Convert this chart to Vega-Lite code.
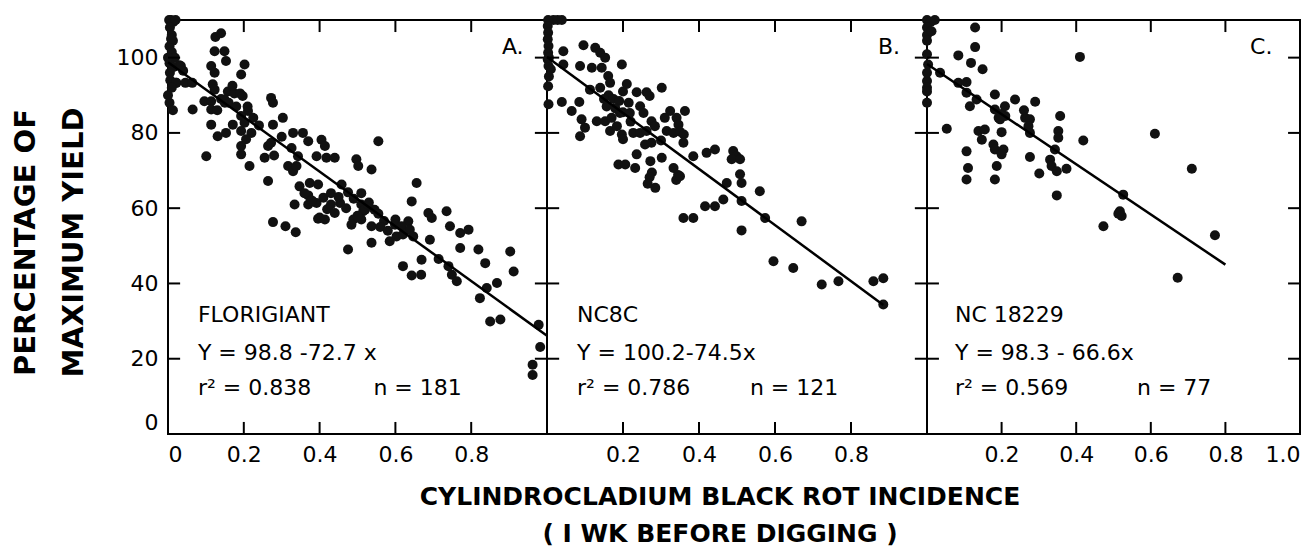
{
  "$schema": "https://vega.github.io/schema/vega-lite/v6.json",
  "padding": {"left": 10, "top": 14, "right": 0, "bottom": 0},
  "background": "white",
  "spacing": 0,
  "bounds": "flush",
  "title": {
    "text": ["CYLINDROCLADIUM   BLACK  ROT   INCIDENCE", "( I  WK  BEFORE  DIGGING )"],
    "orient": "bottom", "anchor": "middle", "font": "DejaVu Sans", "fontSize": 25,
    "fontWeight": "bold", "lineHeight": 37, "offset": 19, "color": "black", "dx": 64
  },
  "datasets": {
    "tx": [{"v":0.2},{"v":0.4},{"v":0.6},{"v":0.8}],
    "ty": [{"v":20},{"v":40},{"v":60},{"v":80},{"v":100}],
    "ptsA": [
      {"x":0.003,"y":110},{"x":0.008,"y":110},{"x":0.014,"y":109.5},{"x":0.02,"y":110},{"x":0.005,"y":108},{"x":0.01,"y":106},{"x":0.013,"y":104.5},{"x":0.004,"y":103},{"x":0.01,"y":101.5},{"x":0.018,"y":100},{"x":0.004,"y":98.5},{"x":0.015,"y":97.5},{"x":0.03,"y":98},{"x":0.04,"y":96.5},{"x":0.006,"y":94},{"x":0.022,"y":93.3},{"x":0.004,"y":88},{"x":0.013,"y":86},{"x":0.0,"y":90},
      {"x":0.034,"y":97.8},{"x":0.021,"y":93.3},{"x":0.046,"y":93.3},{"x":0.064,"y":93.3},{"x":0.065,"y":86.2},
      {"x":0.125,"y":105.5},{"x":0.14,"y":106.5},{"x":0.123,"y":101.7},{"x":0.149,"y":101.7},{"x":0.153,"y":99.1},{"x":0.114,"y":97.8},{"x":0.123,"y":96},
      {"x":0.202,"y":98.2},{"x":0.193,"y":95.5},{"x":0.118,"y":92.9},{"x":0.123,"y":91.5},{"x":0.14,"y":89},{"x":0.15,"y":88},
      {"x":0.158,"y":91},{"x":0.175,"y":90.5},{"x":0.19,"y":90.5},{"x":0.197,"y":89.8},{"x":0.096,"y":88.4},{"x":0.114,"y":88.4},{"x":0.114,"y":86.2},{"x":0.13,"y":86},{"x":0.149,"y":88.9},
      {"x":0.114,"y":82.2},{"x":0.131,"y":79.1},{"x":0.153,"y":80},{"x":0.171,"y":82.2},{"x":0.101,"y":73.8},
      {"x":0.211,"y":85.8},{"x":0.193,"y":84.5},{"x":0.202,"y":82.7},{"x":0.193,"y":80.5},{"x":0.22,"y":80},{"x":0.206,"y":78.3},{"x":0.193,"y":76.5},{"x":0.193,"y":74.3},{"x":0.215,"y":71.2},{"x":0.225,"y":84},
      {"x":0.272,"y":89.3},{"x":0.277,"y":88},{"x":0.303,"y":84},{"x":0.277,"y":82.2},{"x":0.255,"y":73.4},{"x":0.264,"y":76.5},{"x":0.272,"y":77.4},{"x":0.264,"y":67.2},
      {"x":0.33,"y":80},{"x":0.356,"y":80},{"x":0.37,"y":77.8},{"x":0.326,"y":76},{"x":0.343,"y":73.8},{"x":0.317,"y":71.2},{"x":0.33,"y":69.8},{"x":0.339,"y":71.2},
      {"x":0.405,"y":78.2},{"x":0.414,"y":76.5},{"x":0.418,"y":73.4},{"x":0.392,"y":73.8},{"x":0.44,"y":73.4},{"x":0.497,"y":73},{"x":0.502,"y":71.2},{"x":0.555,"y":77.8},{"x":0.537,"y":70.3},
      {"x":0.347,"y":65.8},{"x":0.37,"y":63.4},{"x":0.392,"y":61.4},{"x":0.41,"y":62.8},{"x":0.42,"y":59.7},{"x":0.44,"y":58.7},{"x":0.4,"y":57.5},{"x":0.374,"y":66.7},{"x":0.396,"y":66.3},{"x":0.334,"y":61},{"x":0.454,"y":61.4},
      {"x":0.458,"y":66.3},{"x":0.475,"y":64.2},{"x":0.49,"y":62.5},{"x":0.51,"y":61},{"x":0.51,"y":64},{"x":0.53,"y":61.5},{"x":0.545,"y":59.6},{"x":0.555,"y":58.5},{"x":0.57,"y":56.6},{"x":0.515,"y":59.2},
      {"x":0.6,"y":57},{"x":0.634,"y":56.5},{"x":0.656,"y":66.7},{"x":0.643,"y":61.8},{"x":0.687,"y":58.7},{"x":0.696,"y":57.4},{"x":0.735,"y":59.2},
      {"x":0.277,"y":56.3},{"x":0.31,"y":55.2},{"x":0.337,"y":53.6},{"x":0.396,"y":57.2},{"x":0.414,"y":57},{"x":0.37,"y":61},{"x":0.43,"y":61},{"x":0.489,"y":57},{"x":0.484,"y":55.6},{"x":0.51,"y":57},{"x":0.52,"y":59.6},{"x":0.528,"y":61},{"x":0.537,"y":55.2},{"x":0.475,"y":49},{"x":0.537,"y":50.8},
      {"x":0.599,"y":55.6},{"x":0.616,"y":55.2},{"x":0.638,"y":54.3},{"x":0.647,"y":52.5},{"x":0.603,"y":52.5},{"x":0.585,"y":51.2},{"x":0.744,"y":55.2},{"x":0.771,"y":53.4},{"x":0.793,"y":54.3},{"x":0.691,"y":51.6},{"x":0.669,"y":46.3},{"x":0.62,"y":44.6},{"x":0.643,"y":42.1},{"x":0.668,"y":42.3},{"x":0.714,"y":46.5},{"x":0.74,"y":44.6},{"x":0.749,"y":42.3},{"x":0.762,"y":40.6},{"x":0.771,"y":49.4},{"x":0.819,"y":49},{"x":0.837,"y":45.4},{"x":0.903,"y":48.5},{"x":0.912,"y":43.2},{"x":0.868,"y":40.1},{"x":0.841,"y":38.8},{"x":0.823,"y":36.1},{"x":0.85,"y":29.9},{"x":0.877,"y":30.4},{"x":0.978,"y":29},{"x":0.982,"y":23.1},{"x":0.962,"y":18.4},{"x":0.962,"y":15.7},
      {"x":0.005,"y":96},{"x":0.01,"y":92},{"x":0.0,"y":100},{"x":0.008,"y":105},{"x":0.16,"y":88},{"x":0.18,"y":87},{"x":0.17,"y":92.5},{"x":0.21,"y":87},{"x":0.36,"y":64},{"x":0.38,"y":62},{"x":0.43,"y":64},{"x":0.45,"y":63},{"x":0.5,"y":58},{"x":0.56,"y":55},{"x":0.58,"y":54},{"x":0.62,"y":53},{"x":0.3,"y":79},{"x":0.28,"y":74},{"x":0.24,"y":82},{"x":0.47,"y":60}
    ],
    "ptsB": [
      {"x":0.017,"y":110},{"x":0.028,"y":110},{"x":0.039,"y":110},{"x":0.003,"y":110},{"x":0.002,"y":108.4},{"x":0.003,"y":106.6},{"x":0.002,"y":104.9},{"x":0.004,"y":103.1},{"x":0.003,"y":101.3},{"x":0.002,"y":99.5},{"x":0.004,"y":97.8},{"x":0.01,"y":96.9},{"x":0.003,"y":92.4},{"x":0.004,"y":87.6},
      {"x":0.043,"y":101.7},{"x":0.043,"y":98.2},{"x":0.096,"y":103.3},{"x":0.127,"y":102.6},{"x":0.14,"y":101.3},{"x":0.153,"y":100},{"x":0.087,"y":97.8},{"x":0.118,"y":97.3},{"x":0.144,"y":97.3},{"x":0.197,"y":98.2},{"x":0.161,"y":95.1},{"x":0.166,"y":93.3},{"x":0.113,"y":91.5},
      {"x":0.14,"y":92},{"x":0.162,"y":90},{"x":0.175,"y":89},{"x":0.2,"y":91},{"x":0.19,"y":88.5},{"x":0.157,"y":87},{"x":0.18,"y":86.5},{"x":0.2,"y":85.5},{"x":0.215,"y":88},
      {"x":0.236,"y":90.8},{"x":0.262,"y":90.8},{"x":0.27,"y":89.8},{"x":0.302,"y":92},{"x":0.039,"y":88.2},{"x":0.085,"y":88.2},{"x":0.065,"y":85.8},{"x":0.091,"y":83.6},{"x":0.1,"y":81.4},{"x":0.087,"y":79.1},{"x":0.131,"y":83.1},{"x":0.153,"y":83.1},
      {"x":0.192,"y":85.3},{"x":0.218,"y":85.3},{"x":0.245,"y":87.1},{"x":0.254,"y":85.3},{"x":0.166,"y":80.5},{"x":0.184,"y":81.8},{"x":0.197,"y":79.6},{"x":0.2,"y":78.3},{"x":0.227,"y":80},{"x":0.245,"y":80},{"x":0.262,"y":80.5},{"x":0.275,"y":83.1},{"x":0.284,"y":81.8},{"x":0.258,"y":76.9},{"x":0.275,"y":77.4},
      {"x":0.324,"y":85.8},{"x":0.363,"y":85.8},{"x":0.341,"y":84},{"x":0.346,"y":82.2},{"x":0.315,"y":80.5},{"x":0.333,"y":80},{"x":0.35,"y":80.3},{"x":0.36,"y":79.6},{"x":0.359,"y":77.4},{"x":0.385,"y":73.8},{"x":0.42,"y":74.7},{"x":0.442,"y":75.6},{"x":0.49,"y":75.2},{"x":0.499,"y":73.8},{"x":0.486,"y":73},{"x":0.508,"y":73},
      {"x":0.188,"y":71.6},{"x":0.206,"y":71.6},{"x":0.232,"y":70.7},{"x":0.236,"y":74.3},{"x":0.302,"y":73.4},{"x":0.272,"y":72.5},{"x":0.276,"y":69.5},{"x":0.27,"y":68.2},{"x":0.265,"y":66.5},{"x":0.333,"y":70.7},{"x":0.345,"y":68.8},{"x":0.34,"y":67.5},{"x":0.35,"y":68.5},{"x":0.285,"y":65.4},
      {"x":0.508,"y":69},{"x":0.512,"y":66.7},{"x":0.473,"y":66.7},{"x":0.56,"y":64.5},{"x":0.464,"y":62.3},{"x":0.512,"y":61.9},{"x":0.416,"y":60.5},{"x":0.442,"y":60.5},{"x":0.359,"y":57.4},{"x":0.385,"y":57.4},{"x":0.574,"y":57.4},{"x":0.67,"y":56.5},
      {"x":0.512,"y":54.1},{"x":0.596,"y":45.9},{"x":0.648,"y":44.1},{"x":0.723,"y":39.7},{"x":0.767,"y":40.6},{"x":0.859,"y":40.6},{"x":0.885,"y":41.4},{"x":0.885,"y":34.4},
      {"x":0.17,"y":84},{"x":0.22,"y":83},{"x":0.3,"y":78},{"x":0.15,"y":89},{"x":0.005,"y":95},{"x":0.005,"y":100},{"x":0.21,"y":93},{"x":0.31,"y":84}
    ],
    "ptsC": [
      {"x":0.0,"y":110},{"x":0.021,"y":110},{"x":0.01,"y":109.5},{"x":0.0,"y":108},{"x":0.0,"y":106},{"x":0.0,"y":104.5},{"x":0.0,"y":100.9},{"x":0.003,"y":98.2},{"x":0.0,"y":93.8},{"x":0.0,"y":92},{"x":0.0,"y":91},{"x":0.0,"y":88},{"x":0.0,"y":96},{"x":0.012,"y":107},
      {"x":0.035,"y":96},{"x":0.129,"y":108},{"x":0.129,"y":102.8},{"x":0.084,"y":100.6},{"x":0.118,"y":98.6},{"x":0.149,"y":96.9},{"x":0.084,"y":93.3},{"x":0.106,"y":93.5},{"x":0.106,"y":90.7},{"x":0.133,"y":88.9},{"x":0.115,"y":87.1},{"x":0.182,"y":90.2},
      {"x":0.182,"y":86.2},{"x":0.2,"y":85},{"x":0.21,"y":84.5},{"x":0.192,"y":84},{"x":0.209,"y":87.1},{"x":0.236,"y":88.9},{"x":0.196,"y":83.6},{"x":0.29,"y":88.3},{"x":0.263,"y":84},{"x":0.276,"y":83.6},{"x":0.272,"y":81.8},{"x":0.276,"y":80},{"x":0.357,"y":84.5},{"x":0.352,"y":80.5},{"x":0.352,"y":78.7},{"x":0.26,"y":86},
      {"x":0.053,"y":81.1},{"x":0.138,"y":80.5},{"x":0.155,"y":80.9},{"x":0.147,"y":78.2},{"x":0.2,"y":80.2},{"x":0.178,"y":76.9},{"x":0.182,"y":75.6},{"x":0.205,"y":75.6},{"x":0.2,"y":74.3},{"x":0.106,"y":75.1},{"x":0.11,"y":70.7},{"x":0.106,"y":67.6},{"x":0.187,"y":71.2},{"x":0.182,"y":67.6},
      {"x":0.276,"y":73.6},{"x":0.343,"y":75.6},{"x":0.419,"y":78},{"x":0.41,"y":100.2},{"x":0.33,"y":72.9},{"x":0.334,"y":71.2},{"x":0.348,"y":69.8},{"x":0.374,"y":70.5},{"x":0.301,"y":69.2},{"x":0.348,"y":63.4},{"x":0.611,"y":79.8},{"x":0.71,"y":70.5},{"x":0.526,"y":63.6},{"x":0.517,"y":59.2},{"x":0.522,"y":57.9},{"x":0.473,"y":55.2},{"x":0.513,"y":58.5},{"x":0.772,"y":52.8},{"x":0.672,"y":41.5}
    ],
    "lineA": [{"x":0,"y":98.8},{"x":1.0,"y":26.1}],
    "lineB": [{"x":0,"y":100.2},{"x":0.885,"y":34.3}],
    "lineC": [{"x":0,"y":98.3},{"x":0.8,"y":45.0}],
    "textA": [
      {"x":0.079,"y":31.5,"t":"FLORIGIANT"},{"x":0.079,"y":21.5,"t":"Y = 98.8 -72.7 x"},{"x":0.079,"y":12.2,"t":"r² = 0.838"},{"x":0.542,"y":12.2,"t":"n = 181"},{"x":0.881,"y":102.7,"t":"A."}
    ],
    "textB": [
      {"x":0.079,"y":31.5,"t":"NC8C"},{"x":0.079,"y":21.5,"t":"Y = 100.2-74.5x"},{"x":0.079,"y":12.2,"t":"r² = 0.786"},{"x":0.534,"y":12.2,"t":"n = 121"},{"x":0.871,"y":102.7,"t":"B."}
    ],
    "textC": [
      {"x":0.075,"y":31.5,"t":"NC 18229"},{"x":0.075,"y":21.5,"t":"Y = 98.3 - 66.6x"},{"x":0.075,"y":12.2,"t":"r² = 0.569"},{"x":0.563,"y":12.2,"t":"n = 77"},{"x":0.866,"y":102.7,"t":"C."}
    ]
  },
  "hconcat": [
    {
      "width": 379, "height": 414,
      "layer": [
        {
          "data": {"name": "ptsA"},
          "mark": {"type": "circle", "size": 100, "color": "#111", "opacity": 1},
          "encoding": {
            "x": {"field": "x", "type": "quantitative", "scale": {"domain": [0, 1], "nice": false, "zero": false},
              "axis": {"orient": "bottom", "values": [0, 0.2, 0.4, 0.6, 0.8], "labelFlush": false,
                "labelAlign": {"condition": {"test": "datum.value == 0", "value": "left"}, "value": "center"},
                "labelExpr": "datum.value == 0 ? '0' : format(datum.value, '.1f')", "title": null}},
            "y": {"field": "y", "type": "quantitative", "scale": {"domain": [0, 110], "nice": false},
              "axis": {"orient": "left", "values": [0, 20, 40, 60, 80, 100], "labelFlush": true,
                "title": ["PERCENTAGE OF", "MAXIMUM YIELD"], "titleFontSize": 29, "titleFontWeight": "bold", "titleLineHeight": 48, "titlePadding": 28, "titleY": 222}}
          }
        },
        {"data": {"name": "textA"}, "mark": {"type": "text", "align": "left", "baseline": "middle", "font": "DejaVu Sans", "fontSize": 22, "color": "black"},
          "encoding": {"x": {"field": "x", "type": "quantitative"}, "y": {"field": "y", "type": "quantitative"}, "text": {"field": "t"}}},
        {"data": {"name": "lineA"}, "mark": {"type": "line", "color": "black", "strokeWidth": 2.5},
          "encoding": {"x": {"field": "x", "type": "quantitative"}, "y": {"field": "y", "type": "quantitative"}}},
        {"data": {"name": "tx"}, "mark": {"type": "rule", "color": "black", "strokeWidth": 2},
          "encoding": {"x": {"field": "v", "type": "quantitative"}, "y": {"datum": 0}, "y2": {"datum": 3.2}}},
        {"data": {"name": "tx"}, "mark": {"type": "rule", "color": "black", "strokeWidth": 2},
          "encoding": {"x": {"field": "v", "type": "quantitative"}, "y": {"datum": 106.8}, "y2": {"datum": 110}}},
        {"data": {"name": "ty"}, "mark": {"type": "rule", "color": "black", "strokeWidth": 2},
          "encoding": {"y": {"field": "v", "type": "quantitative"}, "x": {"datum": 0}, "x2": {"datum": 0.032}}},
        {"data": {"name": "ty"}, "mark": {"type": "rule", "color": "black", "strokeWidth": 2},
          "encoding": {"y": {"field": "v", "type": "quantitative"}, "x": {"datum": 0.968}, "x2": {"datum": 1}}}
      ]
    },
    {
      "width": 380, "height": 414,
      "layer": [
        {
          "data": {"name": "ptsB"},
          "mark": {"type": "circle", "size": 100, "color": "#111", "opacity": 1},
          "encoding": {
            "x": {"field": "x", "type": "quantitative", "scale": {"domain": [0, 1], "nice": false, "zero": false},
              "axis": {"orient": "bottom", "values": [0.2, 0.4, 0.6, 0.8], "labelExpr": "format(datum.value, '.1f')", "title": null}},
            "y": {"field": "y", "type": "quantitative", "scale": {"domain": [0, 110], "nice": false},
              "axis": null}
          }
        },
        {"data": {"name": "textB"}, "mark": {"type": "text", "align": "left", "baseline": "middle", "font": "DejaVu Sans", "fontSize": 22, "color": "black"},
          "encoding": {"x": {"field": "x", "type": "quantitative"}, "y": {"field": "y", "type": "quantitative"}, "text": {"field": "t"}}},
        {"data": {"name": "lineB"}, "mark": {"type": "line", "color": "black", "strokeWidth": 2.5},
          "encoding": {"x": {"field": "x", "type": "quantitative"}, "y": {"field": "y", "type": "quantitative"}}},
        {"data": {"name": "tx"}, "mark": {"type": "rule", "color": "black", "strokeWidth": 2},
          "encoding": {"x": {"field": "v", "type": "quantitative"}, "y": {"datum": 0}, "y2": {"datum": 3.2}}},
        {"data": {"name": "tx"}, "mark": {"type": "rule", "color": "black", "strokeWidth": 2},
          "encoding": {"x": {"field": "v", "type": "quantitative"}, "y": {"datum": 106.8}, "y2": {"datum": 110}}},
        {"data": {"name": "ty"}, "mark": {"type": "rule", "color": "black", "strokeWidth": 2},
          "encoding": {"y": {"field": "v", "type": "quantitative"}, "x": {"datum": 0}, "x2": {"datum": 0.032}}},
        {"data": {"name": "ty"}, "mark": {"type": "rule", "color": "black", "strokeWidth": 2},
          "encoding": {"y": {"field": "v", "type": "quantitative"}, "x": {"datum": 0.968}, "x2": {"datum": 1}}}
      ]
    },
    {
      "width": 373, "height": 414,
      "layer": [
        {
          "data": {"name": "ptsC"},
          "mark": {"type": "circle", "size": 100, "color": "#111", "opacity": 1},
          "encoding": {
            "x": {"field": "x", "type": "quantitative", "scale": {"domain": [0, 1], "nice": false, "zero": false},
              "axis": {"orient": "bottom", "values": [0.2, 0.4, 0.6, 0.8, 1.0], "labelFlush": false,
                "labelAlign": {"condition": {"test": "datum.value == 1", "value": "right"}, "value": "center"},
                "labelExpr": "format(datum.value, '.1f')", "title": null}},
            "y": {"field": "y", "type": "quantitative", "scale": {"domain": [0, 110], "nice": false},
              "axis": null}
          }
        },
        {"data": {"name": "textC"}, "mark": {"type": "text", "align": "left", "baseline": "middle", "font": "DejaVu Sans", "fontSize": 22, "color": "black"},
          "encoding": {"x": {"field": "x", "type": "quantitative"}, "y": {"field": "y", "type": "quantitative"}, "text": {"field": "t"}}},
        {"data": {"name": "lineC"}, "mark": {"type": "line", "color": "black", "strokeWidth": 2.5},
          "encoding": {"x": {"field": "x", "type": "quantitative"}, "y": {"field": "y", "type": "quantitative"}}},
        {"data": {"name": "tx"}, "mark": {"type": "rule", "color": "black", "strokeWidth": 2},
          "encoding": {"x": {"field": "v", "type": "quantitative"}, "y": {"datum": 0}, "y2": {"datum": 3.2}}},
        {"data": {"name": "tx"}, "mark": {"type": "rule", "color": "black", "strokeWidth": 2},
          "encoding": {"x": {"field": "v", "type": "quantitative"}, "y": {"datum": 106.8}, "y2": {"datum": 110}}},
        {"data": {"name": "ty"}, "mark": {"type": "rule", "color": "black", "strokeWidth": 2},
          "encoding": {"y": {"field": "v", "type": "quantitative"}, "x": {"datum": 0}, "x2": {"datum": 0.032}}},
        {"data": {"name": "ty"}, "mark": {"type": "rule", "color": "black", "strokeWidth": 2},
          "encoding": {"y": {"field": "v", "type": "quantitative"}, "x": {"datum": 0.968}, "x2": {"datum": 1}}}
      ]
    }
  ],
  "config": {
    "view": {"stroke": "black", "strokeWidth": 2},
    "axis": {"grid": false, "domain": false, "ticks": false, "offset": 0, "labelPadding": 10,
      "labelFont": "DejaVu Sans", "labelFontSize": 22, "labelColor": "black", "titleFont": "DejaVu Sans", "titleColor": "black",
      "minExtent": 0}
  }
}
